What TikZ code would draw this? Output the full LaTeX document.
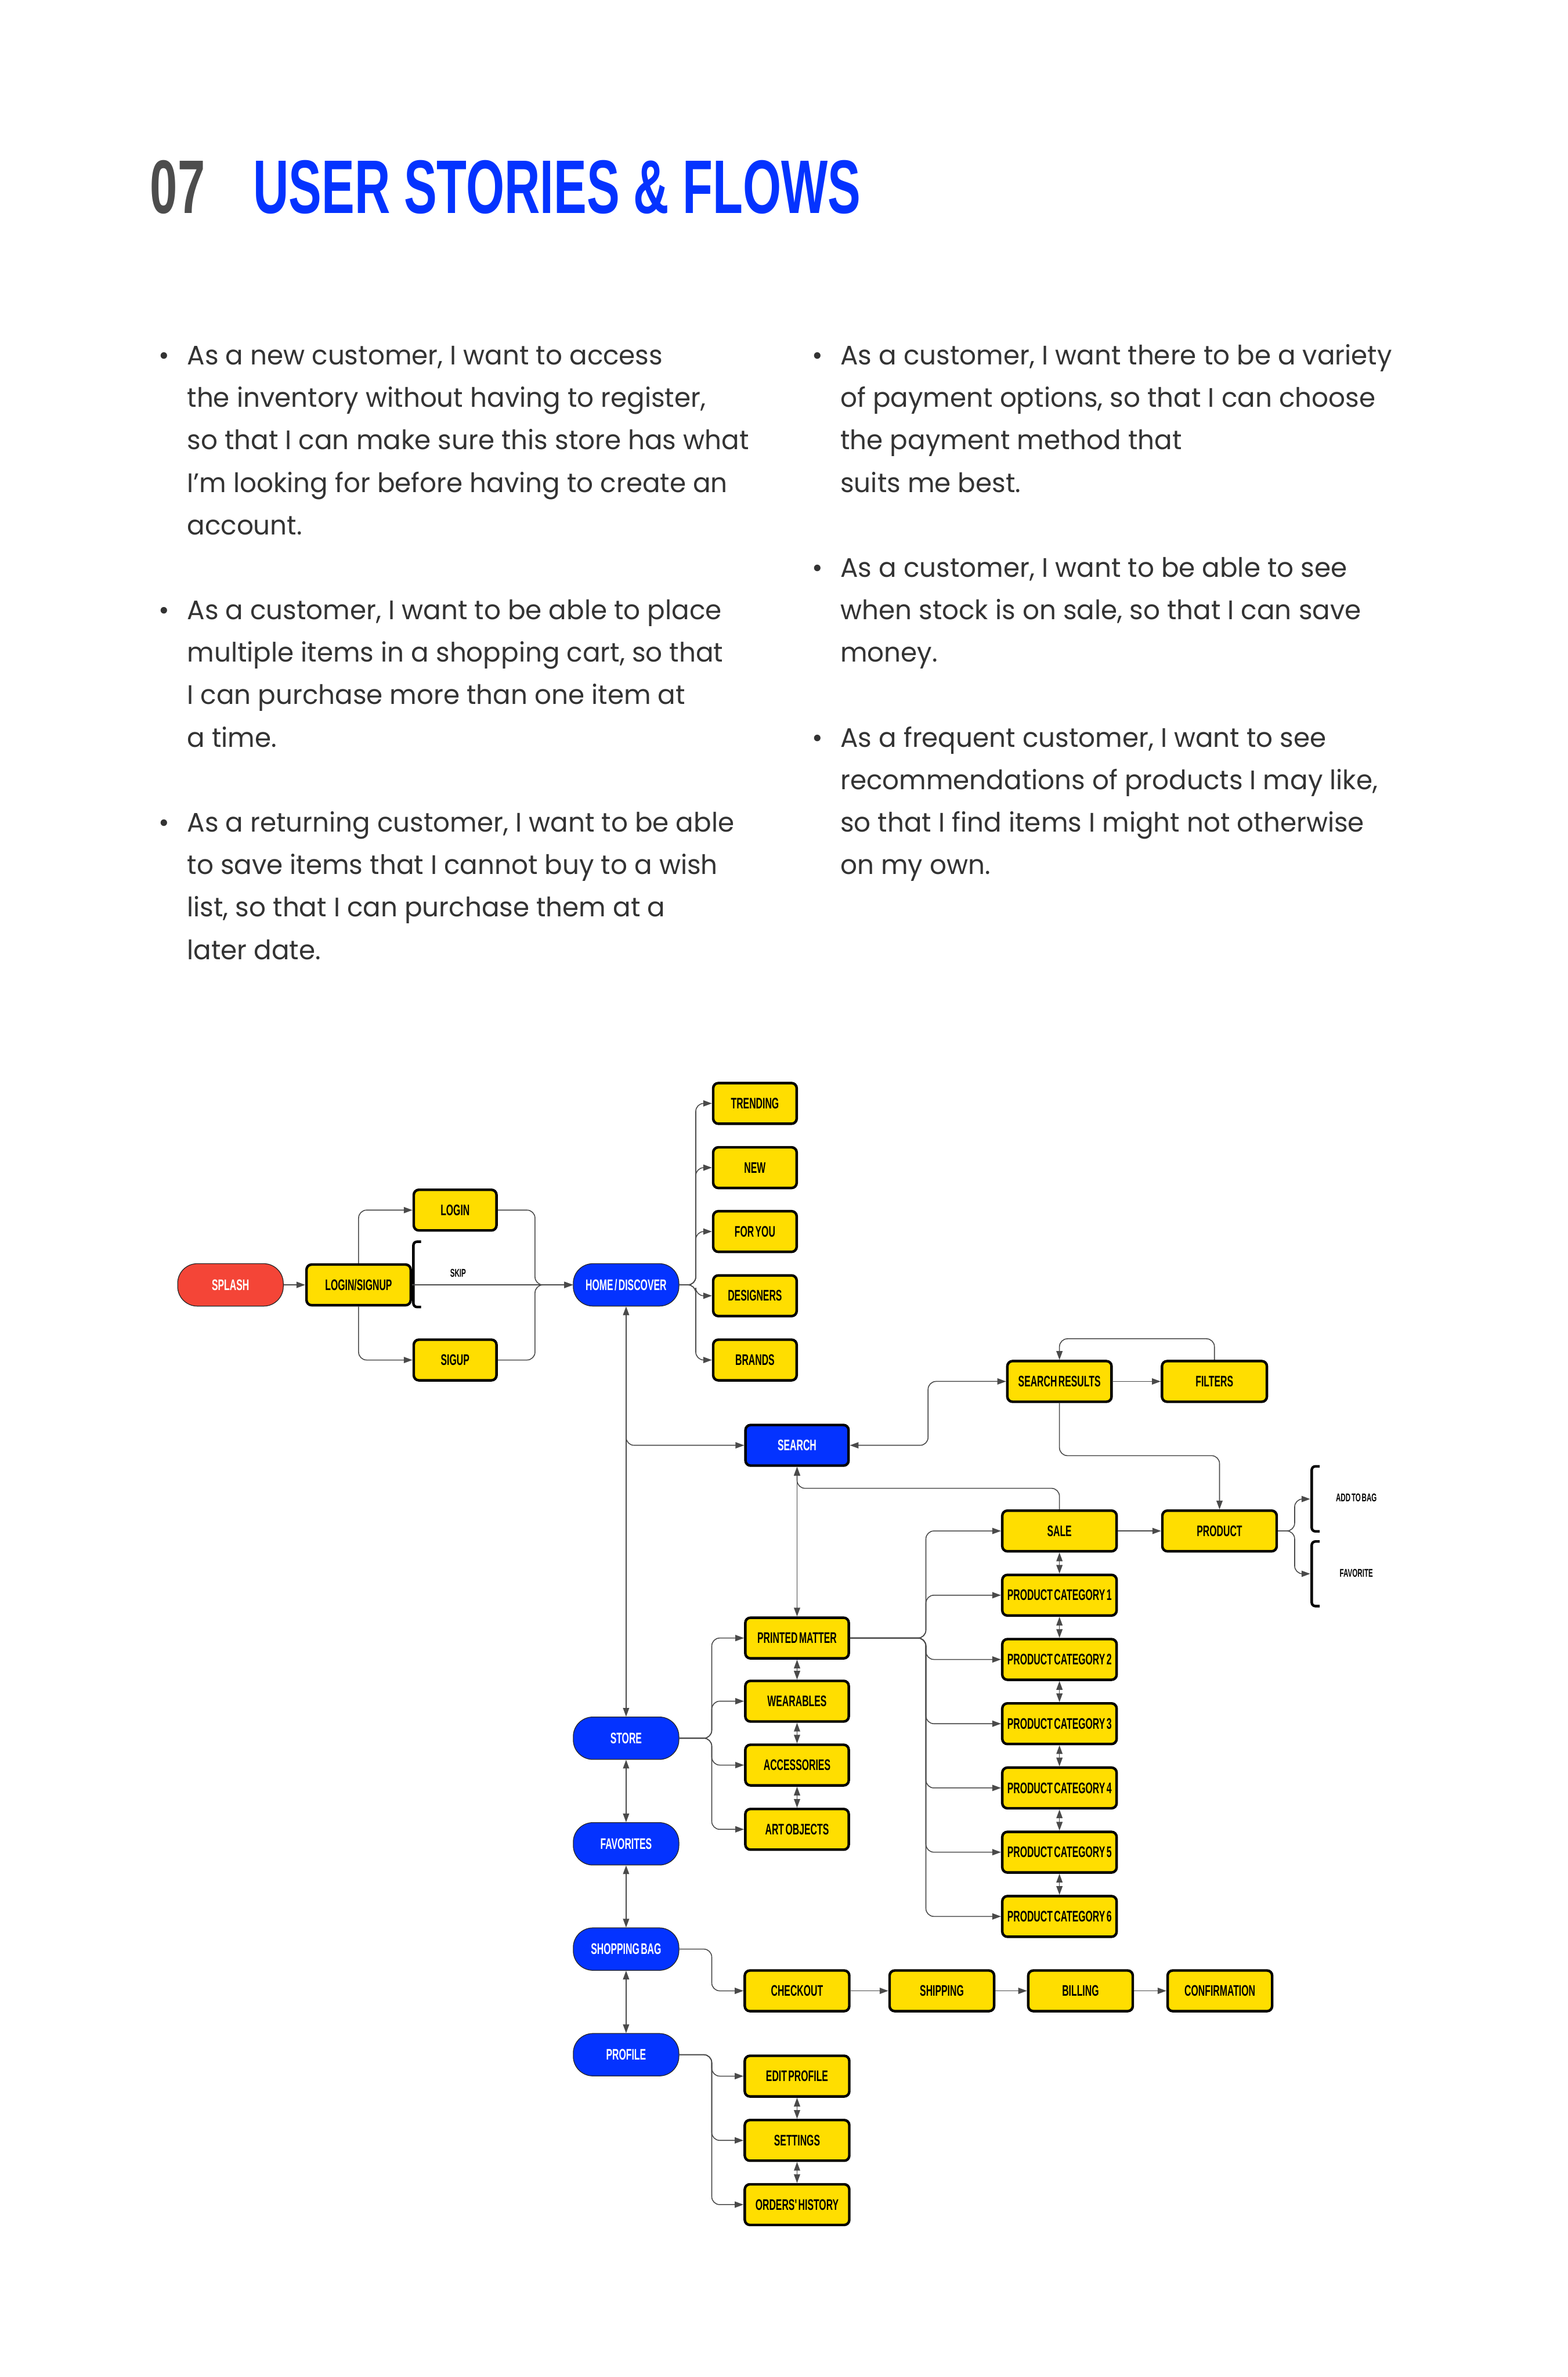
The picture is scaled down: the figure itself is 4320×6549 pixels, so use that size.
\documentclass[tikz,border=0pt]{standalone}
\usepackage{fontspec}
\usetikzlibrary{arrows.meta}
\newfontfamily\cond[FakeStretch=0.6,WordSpace=0.55]{Liberation Sans}
\newfontfamily\condT[FakeStretch=0.65]{Liberation Sans}
\newfontfamily\bodyf[FakeStretch=0.98]{Poppins}
\definecolor{yel}{HTML}{FFDE00}
\definecolor{blu}{HTML}{0433FF}
\definecolor{rd}{HTML}{F44537}
\definecolor{ln}{HTML}{4A4A4A}
\definecolor{txt}{HTML}{333333}
\definecolor{ttl}{HTML}{4D4D4D}
\begin{document}
\begin{tikzpicture}[x=0.1mm,y=-0.1mm,
  lab/.style={font=\cond\bfseries\fontsize{12}{14}\selectfont},
  ybox/.style={lab, draw=black, line width=0.7mm, fill=yel, rounded corners=1.4mm,
    minimum width=#1, minimum height=11.2mm, inner sep=0pt, text=black},
  bbox/.style={ybox=#1, fill=blu, text=white},
  stad/.style={lab, draw=black!85, line width=0.2mm, fill=#1, rounded corners=5.4mm,
    minimum width=29.1mm, minimum height=11.7mm, inner sep=0pt, text=white},
  slab/.style={font=\cond\bfseries\fontsize{8.8}{10}\selectfont, inner sep=0pt},
  conn/.style={draw=ln, line width=0.25mm, rounded corners=2.2mm},
  arr/.style={-{Triangle[length=2.4mm,width=1.7mm]}},
  darr/.style={{Triangle[length=2.4mm,width=1.7mm]}-{Triangle[length=2.4mm,width=1.7mm]}},
  bkt/.style={draw=black, line width=0.7mm, rounded corners=1mm},
  body/.style={anchor=base west, inner sep=0pt, text=txt, font=\bodyf\fontsize{21}{25}\selectfont},
  bul/.style={anchor=base, inner sep=0pt, text=txt, font=\bodyf\fontsize{21}{25}\selectfont}
]
\useasboundingbox (0,0) rectangle (4320,6549);
\fill[white] (0,0) rectangle (4320,6549);

% title
\node[anchor=base west, inner sep=0pt, text=ttl, font=\condT\bfseries\fontsize{59.5}{60}\selectfont] (num) at (413,587) {07};
\node[anchor=base west, inner sep=0pt, text=blu, font=\condT\bfseries\fontsize{59.5}{60}\selectfont] (title) at (697,587) {USER STORIES \& FLOWS};

% user stories
\node[bul] (b1) at (452,1005) {•};
\node[bul] (b2) at (452,1707) {•};
\node[bul] (b3) at (452,2292) {•};
\node[bul] (b4) at (2252,1005) {•};
\node[bul] (b5) at (2252,1590) {•};
\node[bul] (b6) at (2252,2058) {•};
\foreach \t [count=\i from 0] in {{As a new customer, I want to access},{the inventory without having to register,},{so that I can make sure this store has what},{I’m looking for before having to create an},{account.}}
  \node[body] (sA\i) at (515,{1005+117*\i}) {\t};
\foreach \t [count=\i from 0] in {{As a customer, I want to be able to place},{multiple items in a shopping cart, so that},{I can purchase more than one item at},{a time.}}
  \node[body] (sB\i) at (515,{1707+117*\i}) {\t};
\foreach \t [count=\i from 0] in {{As a returning customer, I want to be able},{to save items that I cannot buy to a wish},{list, so that I can purchase them at a},{later date.}}
  \node[body] (sC\i) at (515,{2292+117*\i}) {\t};
\foreach \t [count=\i from 0] in {{As a customer, I want there to be a variety},{of payment options, so that I can choose},{the payment method that},{suits me best.}}
  \node[body] (sD\i) at (2315,{1005+117*\i}) {\t};
\foreach \t [count=\i from 0] in {{As a customer, I want to be able to see},{when stock is on sale, so that I can save},{money.}}
  \node[body] (sE\i) at (2315,{1590+117*\i}) {\t};
\foreach \t [count=\i from 0] in {{As a frequent customer, I want to see},{recommendations of products I may like,},{so that I find items I might not otherwise},{on my own.}}
  \node[body] (sF\i) at (2315,{2058+117*\i}) {\t};

% nodes
\node[stad=rd] (splash) at (635,3540) {SPLASH};
\node[ybox=28.7mm] (ls) at (988,3540) {LOGIN/SIGNUP};
\node[ybox=22.8mm] (login) at (1254,3334) {LOGIN};
\node[ybox=22.8mm] (sigup) at (1254,3747) {SIGUP};
\node[stad=blu] (home) at (1725,3540) {HOME / DISCOVER};
\node[ybox=23mm] (trending) at (2080,3040) {TRENDING};
\node[ybox=23mm] (new) at (2080,3217) {NEW};
\node[ybox=23mm] (foryou) at (2080,3393) {FOR YOU};
\node[ybox=23mm] (designers) at (2080,3570) {DESIGNERS};
\node[ybox=23mm] (brands) at (2080,3747) {BRANDS};
\node[bbox=28.4mm] (search) at (2196,3982) {SEARCH};
\node[ybox=28.7mm] (sresults) at (2919,3806) {SEARCH RESULTS};
\node[ybox=28.9mm] (filters) at (3346,3806) {FILTERS};
\node[ybox=31.5mm] (sale) at (2919,4218) {SALE};
\node[ybox=31.5mm] (product) at (3360,4218) {PRODUCT};
\foreach \k in {1,...,6}
  \node[ybox=31.5mm] (pc\k) at (2919,{4395+177*(\k-1)}) {PRODUCT CATEGORY \k};
\node[ybox=28.5mm] (printed) at (2196,4513) {PRINTED MATTER};
\node[ybox=28.5mm] (wear) at (2196,4687) {WEARABLES};
\node[ybox=28.5mm] (acc) at (2196,4863) {ACCESSORIES};
\node[ybox=28.5mm] (art) at (2196,5040) {ART OBJECTS};
\node[stad=blu] (store) at (1725,4789) {STORE};
\node[stad=blu] (fav) at (1725,5080) {FAVORITES};
\node[stad=blu] (bag) at (1725,5370) {SHOPPING BAG};
\node[stad=blu] (profile) at (1725,5661) {PROFILE};
\node[ybox=28.8mm] (checkout) at (2196,5485) {CHECKOUT};
\node[ybox=28.8mm] (shipping) at (2595,5485) {SHIPPING};
\node[ybox=28.8mm] (billing) at (2977,5485) {BILLING};
\node[ybox=28.8mm] (confirm) at (3361,5485) {CONFIRMATION};
\node[ybox=28.8mm] (edit) at (2196,5720) {EDIT PROFILE};
\node[ybox=28.8mm] (settings) at (2196,5897) {SETTINGS};
\node[ybox=28.8mm] (orders) at (2196,6074) {ORDERS' HISTORY};

% small labels and brackets
\node[slab] (skip) at (1262,3508) {SKIP};
\node[slab] (addbag) at (3737,4127) {ADD TO BAG};
\node[slab] (favorite) at (3737,4334) {FAVORITE};
\draw[bkt] (1160,3421) -| (1139,3601) -- (1160,3601);
\draw[bkt] (3636,4040) -| (3614,4219) -- (3636,4219);
\draw[bkt] (3636,4247) -| (3614,4425) -- (3636,4425);

% coordinates
\coordinate (jx) at (1474,3540);
\coordinate (hx) at (1917,3540);
\coordinate (hs) at (1725,3930);
\coordinate (sxc) at (2557,0);
\coordinate (pe) at (3567,4218);
\coordinate (bkA) at (3610,4130);
\coordinate (bkF) at (3610,4336);
\coordinate (px) at (2551,0);
\coordinate (stx) at (1961,0);

% connectors
\draw[conn,arr] (splash.east) -- (ls.west);
\draw[conn,arr] (ls.north) |- (login.west);
\draw[conn,arr] (ls.south) |- (sigup.west);
\draw[conn,arr] (login.east) -| (jx) -- (home.west);
\draw[conn,arr] (sigup.east) -| (jx) -- (home.west);
\draw[conn,arr] (ls.east) -- (home.west);
\foreach \nd in {trending,new,foryou,designers,brands}
  \draw[conn,arr] (home.east) -- (hx) -- (hx |- \nd.west) -- (\nd.west);
\draw[conn,darr] (home.south) -- (store.north);
\draw[conn,arr] (hs) |- (search.west);
\draw[conn,darr] (search.east) -- (search.east -| sxc) -- (sxc |- sresults.west) -- (sresults.west);
\draw[conn,arr] (sresults.east) -- (filters.west);
\draw[conn,arr] (filters.north) -- ++(0,-58) -| (sresults.north);
\draw[conn,arr] (sresults.south) -- ++(0,145) -| (product.north);
\draw[conn,arr] (sale.north) -- ++(0,-58) -| (search.south);
\draw[conn,darr] (search.south) -- (printed.north);
\draw[conn,arr] (sale.east) -- (product.west);
\draw[conn,arr] (product.east) -- (pe) |- (bkA);
\draw[conn,arr] (product.east) -- (pe) |- (bkF);
\draw[conn,darr] (sale.south) -- (pc1.north);
\foreach \a/\b in {1/2,2/3,3/4,4/5,5/6}
  \draw[conn,darr] (pc\a.south) -- (pc\b.north);
\foreach \nd in {sale,pc1,pc2,pc3,pc4,pc5,pc6}
  \draw[conn,arr] (printed.east) -- (printed.east -| px) -- (px |- \nd.west) -- (\nd.west);
\draw[conn,darr] (printed.south) -- (wear.north);
\draw[conn,darr] (wear.south) -- (acc.north);
\draw[conn,darr] (acc.south) -- (art.north);
\foreach \nd in {printed,wear,acc,art}
  \draw[conn,arr] (store.east) -- (store.east -| stx) -- (stx |- \nd.west) -- (\nd.west);
\draw[conn,darr] (store.south) -- (fav.north);
\draw[conn,darr] (fav.south) -- (bag.north);
\draw[conn,darr] (bag.south) -- (profile.north);
\draw[conn,arr] (bag.east) -- (bag.east -| stx) -- (stx |- checkout.west) -- (checkout.west);
\draw[conn,arr] (checkout.east) -- (shipping.west);
\draw[conn,arr] (shipping.east) -- (billing.west);
\draw[conn,arr] (billing.east) -- (confirm.west);
\foreach \nd in {edit,settings,orders}
  \draw[conn,arr] (profile.east) -- (profile.east -| stx) -- (stx |- \nd.west) -- (\nd.west);
\draw[conn,darr] (edit.south) -- (settings.north);
\draw[conn,darr] (settings.south) -- (orders.north);
\end{tikzpicture}
\end{document}
